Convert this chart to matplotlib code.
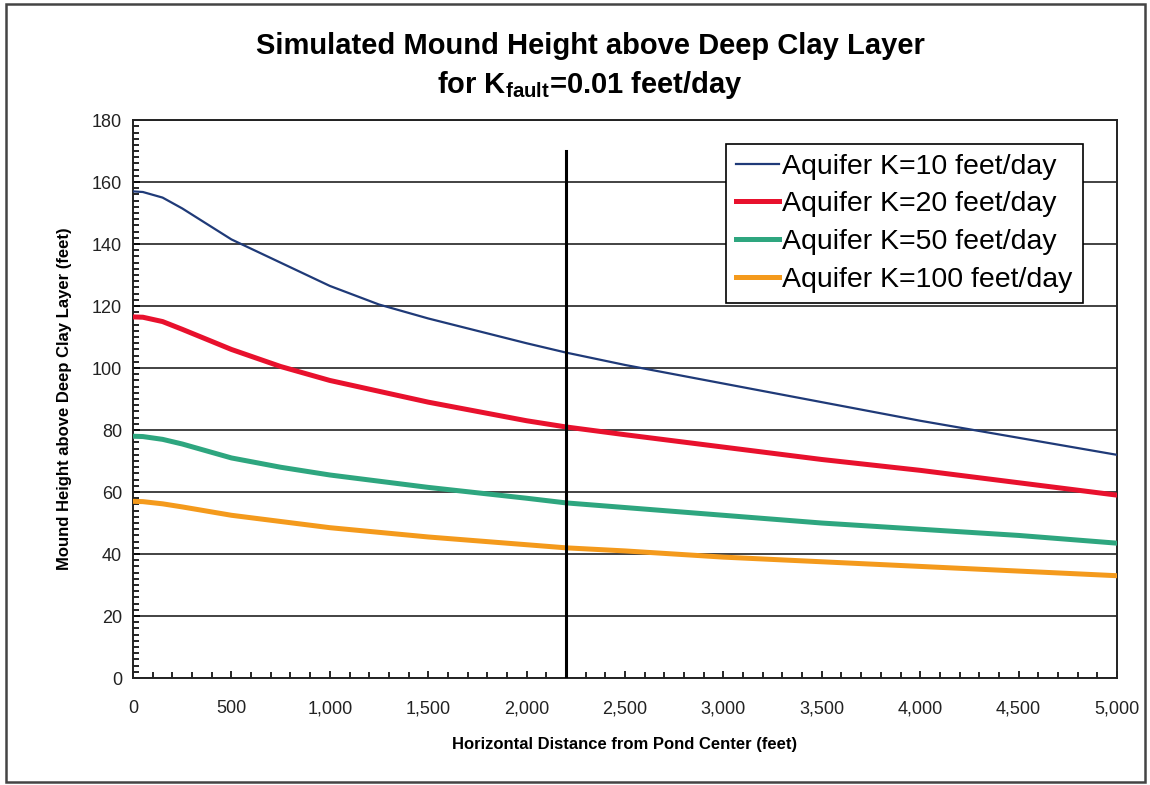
import numpy as np
import matplotlib
matplotlib.use("Agg")
import matplotlib.pyplot as plt
from matplotlib.patches import Rectangle
from matplotlib.ticker import MultipleLocator, FuncFormatter

# distance from pond centre (feet) and simulated mound heights (feet)
distance = [0, 50, 150, 250, 500, 750, 1000, 1250, 1500, 2000, 2200, 2500, 3000, 3500, 4000, 4500, 5000]
k10 = [157, 156.8, 155, 151.5, 141.5, 134, 126.5, 120.5, 116, 108, 105, 101, 95, 89, 83, 77.5, 72]
k20 = [116.5, 116.4, 115, 112.5, 106, 100.5, 96, 92.5, 89, 83, 81, 78.5, 74.5, 70.5, 67, 63, 59]
k50 = [78, 77.9, 77, 75.5, 71, 68, 65.5, 63.5, 61.5, 58, 56.5, 55, 52.5, 50, 48, 46, 43.5]
k100 = [57, 56.9, 56.2, 55.2, 52.5, 50.5, 48.5, 47, 45.5, 43, 42, 41, 39, 37.5, 36, 34.5, 33]
labels = ["Aquifer K=10 feet/day", "Aquifer K=20 feet/day",
          "Aquifer K=50 feet/day", "Aquifer K=100 feet/day"]
fault_x = 2200
fault_top = 170

plain = ["Liberation Sans", "DejaVu Sans"]
plt.rcParams["mathtext.fontset"] = "custom"
plt.rcParams["mathtext.rm"] = "Liberation Sans"
plt.rcParams["mathtext.bf"] = "Liberation Sans:bold"

fig = plt.figure(figsize=(11.5, 7.85), dpi=100)
ax = fig.add_axes([0.1157, 0.1363, 0.8556, 0.7107])

# outer chart border
fig.patches.append(Rectangle((0.005, 0.004), 0.991, 0.991, transform=fig.transFigure,
                             fill=False, edgecolor="#444444", linewidth=1.8))

ax.plot(distance, k10, color="#1f3a78", lw=1.6, label=labels[0], zorder=4)
ax.plot(distance, k20, color="#e8112d", lw=3.6, label=labels[1], zorder=4)
ax.plot(distance, k50, color="#2ea67f", lw=3.6, label=labels[2], zorder=4)
ax.plot(distance, k100, color="#f49a1c", lw=3.6, label=labels[3], zorder=4)

# fault location
ax.plot([fault_x, fault_x], [0, fault_top], color="black", lw=2.2, zorder=5)

ax.set_xlim(0, 5000)
ax.set_ylim(0, 180)
ax.xaxis.set_major_locator(MultipleLocator(500))
ax.xaxis.set_minor_locator(MultipleLocator(100))
ax.yaxis.set_major_locator(MultipleLocator(20))
ax.yaxis.set_minor_locator(MultipleLocator(2))
ax.xaxis.set_major_formatter(FuncFormatter(lambda v, p: f"{int(v):,}"))
ax.grid(axis="y", which="major", color="#222222", lw=1.2)
ax.set_axisbelow(True)
ax.tick_params(which="both", direction="in", color="black", width=1.2)
ax.tick_params(which="major", length=5)
ax.tick_params(which="minor", length=4)
ax.tick_params(axis="x", pad=16)
ax.tick_params(axis="y", pad=8)
for lab in ax.get_xticklabels() + ax.get_yticklabels():
    lab.set_family(plain)
    lab.set_fontsize(13)
    lab.set_color("#222222")
for s in ax.spines.values():
    s.set_linewidth(1.4)
    s.set_color("#222222")

ax.set_xlabel("Horizontal Distance from Pond Center (feet)", family=plain,
              fontsize=12, fontweight="bold", labelpad=14)
ax.set_ylabel("Mound Height above Deep Clay Layer (feet)", family=plain,
              fontsize=12, fontweight="bold", labelpad=14)

fig.text(0.513, 0.942, "Simulated Mound Height above Deep Clay Layer",
         ha="center", va="center", family=plain, fontsize=21, fontweight="bold")
fig.text(0.513, 0.892, r"for K$_{\mathbf{fault}}$=0.01 feet/day",
         ha="center", va="center", family=plain, fontsize=21, fontweight="bold")

leg = ax.legend(loc="upper right", bbox_to_anchor=(0.965, 0.958), prop={"family": plain, "size": 20.5},
                frameon=True, fancybox=False, framealpha=1, edgecolor="black",
                handlelength=1.5, handletextpad=0.12, borderpad=0.35, labelspacing=0.42,
                borderaxespad=0)
leg.get_frame().set_linewidth(1.2)
leg.set_zorder(6)

fig.savefig("out.png", dpi=100, facecolor="white")
